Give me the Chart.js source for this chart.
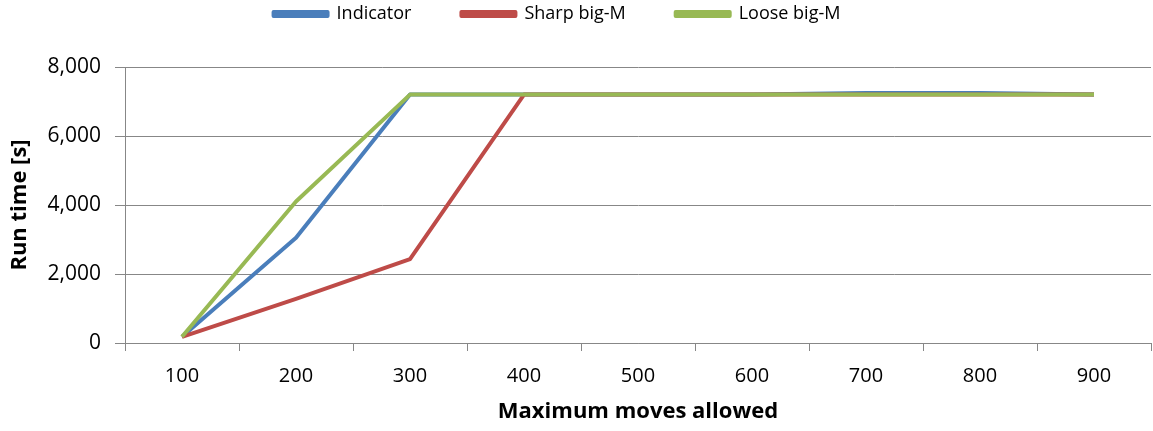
<!DOCTYPE html>
<html>
<head>
<meta charset="utf-8">
<script src="https://cdn.jsdelivr.net/npm/chart.js@4"></script>
<style>
html,body{margin:0;padding:0;background:#fff;}
#wrap{width:1153px;height:431px;position:relative;}
</style>
</head>
<body>
<div id="wrap"><canvas id="c" width="1153" height="431"></canvas></div>
<script>
const categories = ['100','200','300','400','500','600','700','800','900'];
const indicator = [180, 3050, 7200, 7200, 7200, 7200, 7250, 7250, 7200];
const sharpBigM = [180, 1280, 2430, 7200, 7200, 7200, 7200, 7200, 7200];
const looseBigM = [180, 4100, 7200, 7200, 7200, 7200, 7200, 7200, 7200];
const yTicks = [0, 2000, 4000, 6000, 8000];

const FONT = "'Open Sans', 'Liberation Sans', sans-serif";
const GRID = '#878787';

const legendTweak = {
  id: 'legendTweak',
  beforeLayout(chart) {
    const lg = chart.legend;
    if (lg && !lg._patched) {
      const orig = lg.fit;
      lg.fit = function() { orig.call(this); this.height += 34; };
      lg._patched = true;
    }
  },
  afterLayout(chart) {
    const lg = chart.legend;
    if (lg) { lg.left -= 20; lg.right -= 20; }
  }
};

new Chart(document.getElementById('c'), {
  type: 'line',
  data: {
    labels: categories,
    datasets: [
      {label:'Indicator', data: indicator, borderColor:'#4A7EBB', backgroundColor:'#4A7EBB', order:3},
      {label:'Sharp big-M', data: sharpBigM, borderColor:'#BE4B48', backgroundColor:'#BE4B48', order:2},
      {label:'Loose big-M', data: looseBigM, borderColor:'#98B954', backgroundColor:'#98B954', order:1}
    ]
  },
  plugins:[legendTweak],
  options: {
    responsive:false,
    animation:false,
    devicePixelRatio:1,
    elements:{
      line:{borderWidth:4, tension:0, fill:false, borderJoinStyle:'round'},
      point:{radius:0, hoverRadius:0}
    },
    layout:{padding:{left:3, right:2, top:-45, bottom:2}},
    plugins:{
      tooltip:{enabled:false},
      legend:{
        position:'top',
        align:'center',
        reverse:true,
        labels:{
          boxWidth:54, boxHeight:4, padding:50,
          color:'#000',
          font:{family:FONT, size:18}
        }
      }
    },
    scales:{
      x:{
        offset:true,
        grid:{offset:true, drawOnChartArea:false, drawTicks:true, tickLength:8, color:GRID, lineWidth:1},
        border:{display:true, color:GRID, width:1},
        ticks:{color:'#000', padding:13, font:{family:FONT, size:20}, maxRotation:0},
        title:{display:true, text:'Maximum moves allowed', color:'#000', font:{family:FONT, size:22, weight:'bold'}},
        afterFit(s){ s.height = 86; }
      },
      y:{
        min:0, max:8000,
        afterBuildTicks(s){ s.ticks = yTicks.map(v=>({value:v})); },
        grid:{drawTicks:true, tickLength:10, color:GRID, lineWidth:1},
        border:{display:true, color:GRID, width:1},
        ticks:{color:'#000', padding:14, font:{family:FONT, size:21},
          callback:(v)=>v.toLocaleString('en-US')},
        title:{display:true, text:'Run time [s]', color:'#000', font:{family:FONT, size:22, weight:'bold'}},
        afterFit(s){ s.width = 122; }
      }
    }
  }
});
</script>
</body>
</html>
